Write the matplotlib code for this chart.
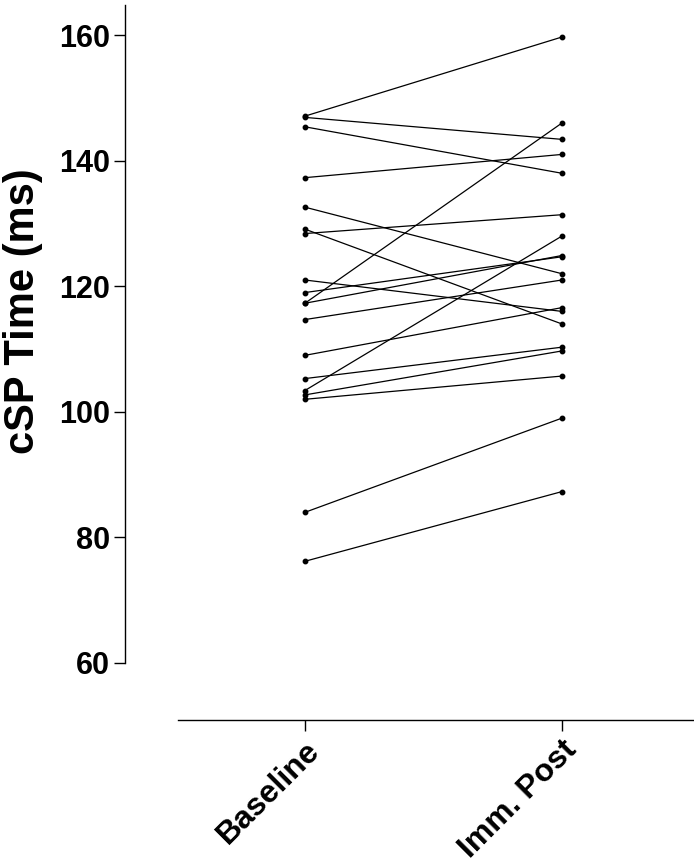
import numpy as np
import matplotlib.pyplot as plt

plt.rcParams['font.family'] = ['Liberation Sans', 'DejaVu Sans']
plt.rcParams['font.weight'] = 'bold'

# paired cSP times (ms), one entry per subject
conditions = ['Baseline', 'Imm. Post']
baseline = [147.1, 146.9, 145.4, 137.3, 132.6, 129.1, 128.4, 121.0, 119.0, 117.3,
            117.3, 114.7, 109.0, 105.3, 103.4, 102.7, 102.0, 84.0, 76.2]
imm_post = [159.7, 143.4, 138.0, 141.0, 122.0, 114.0, 131.4, 116.0, 124.7, 146.0,
            124.9, 121.0, 116.6, 110.3, 128.0, 109.7, 105.7, 99.0, 87.3]
y_ticks = [60, 80, 100, 120, 140, 160]

fig = plt.figure(figsize=(6.94, 8.65), dpi=100)
ax = fig.add_axes([178 / 694, 202 / 865, 516 / 694, 658 / 865])

for b, p in zip(baseline, imm_post):
    ax.plot([0, 1], [b, p], color='black', lw=0.9, marker='o', markersize=3.2,
            clip_on=False)

ax.set_xlim(-0.494, 1.514)
ax.set_ylim(60, 164.8)

ax.spines['top'].set_visible(False)
ax.spines['right'].set_visible(False)
ax.spines['left'].set_position(('outward', 38))
ax.spines['bottom'].set_position(('outward', 41))
for s in ['left', 'bottom']:
    ax.spines[s].set_linewidth(1.0)
ax.tick_params(axis='both', length=8, width=1.0, pad=3)
ax.tick_params(axis='y', labelsize=22)

ax.set_yticks(y_ticks)
ax.set_xticks([0, 1])
ax.set_xticklabels(conditions, rotation=45, ha='right', rotation_mode='anchor',
                   fontsize=23, fontweight='bold')
ax.set_ylabel('cSP Time (ms)', fontsize=30, fontweight='bold')
ax.yaxis.set_label_coords(-0.262, 0.535)

fig.savefig('out.png', dpi=100)
